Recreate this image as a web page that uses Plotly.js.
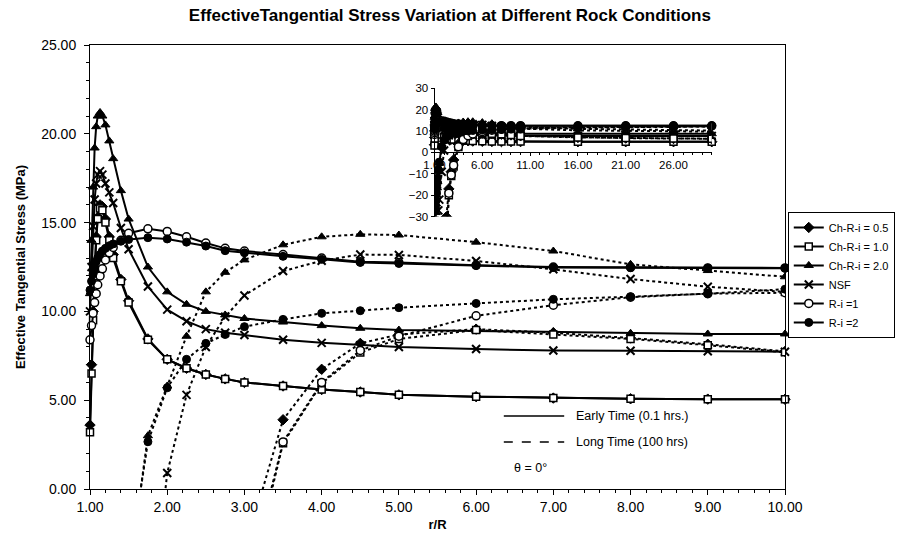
<!DOCTYPE html>
<html>
<head>
<meta charset="utf-8">
<script src="https://cdn.plot.ly/plotly-3.0.1.min.js"></script>
<style>html,body{margin:0;padding:0;background:#fff;}#chart{width:907px;height:546px;}</style>
</head>
<body>
<div id="chart"></div>
<script>
// r/R positions
const X = [1.0, 1.02, 1.04, 1.06, 1.08, 1.1, 1.13, 1.16, 1.2, 1.25, 1.3, 1.4, 1.5, 1.75, 2.0, 2.25, 2.5, 2.75, 3.0, 3.5, 4.0, 4.5, 5.0, 6.0, 7.0, 8.0, 9.0, 10.0];
// extra far-field points shown only in the inset
const X_EXT = [16, 21, 26, 30];

const seriesNames = ['Ch-R-i = 0.5', 'Ch-R-i = 1.0', 'Ch-R-i = 2.0', 'NSF', 'R-i =1', 'R-i =2'];

// Early time (0.1 hrs) - solid
const ch05Early = [3.6, 7.0, 10.0, 12.3, 14.2, 15.3, 16.0, 15.9, 15.2, 14.2, 13.2, 11.8, 10.6, 8.45, 7.3, 6.8, 6.45, 6.2, 6.0, 5.8, 5.6, 5.46, 5.3, 5.2, 5.12, 5.08, 5.06, 5.05];
const ch10Early = [3.2, 6.5, 9.5, 12.0, 14.0, 15.2, 15.8, 15.7, 15.0, 14.0, 13.0, 11.7, 10.5, 8.4, 7.3, 6.8, 6.45, 6.2, 6.0, 5.8, 5.6, 5.46, 5.3, 5.2, 5.12, 5.08, 5.06, 5.05];
const ch20Early = [11.0, 14.0, 17.0, 19.2, 20.4, 21.0, 21.2, 21.0, 20.5, 19.6, 18.6, 16.8, 15.2, 12.5, 11.1, 10.4, 10.0, 9.8, 9.6, 9.4, 9.2, 9.05, 8.95, 8.9, 8.85, 8.77, 8.73, 8.73];
const nsfEarly  = [10.0, 12.5, 14.8, 16.3, 17.2, 17.7, 17.9, 17.7, 17.2, 16.7, 16.1, 14.7, 13.5, 11.4, 10.1, 9.45, 9.0, 8.8, 8.67, 8.4, 8.23, 8.1, 8.0, 7.88, 7.8, 7.78, 7.76, 7.73];
const ri1Early  = [8.4, 9.2, 9.9, 10.5, 11.0, 11.5, 12.0, 12.4, 12.9, 13.3, 13.6, 14.0, 14.4, 14.65, 14.5, 14.2, 13.85, 13.55, 13.4, 13.2, 13.0, 12.8, 12.75, 12.6, 12.5, 12.48, 12.45, 12.45];
const ri2Early  = [11.2, 11.7, 12.1, 12.5, 12.8, 13.0, 13.2, 13.4, 13.55, 13.7, 13.8, 13.95, 14.05, 14.15, 14.08, 13.9, 13.68, 13.42, 13.3, 13.1, 12.93, 12.76, 12.7, 12.58, 12.47, 12.46, 12.44, 12.43];

// Long time (100 hrs) - dotted
const ch05Long = [null, null, null, null, null, null, null, null, null, null, null, null, null, null, -52, -30, -17, -9, -3.5, 3.9, 6.74, 8.2, 8.7, 9.0, 8.8, 8.5, 8.15, 7.75];
const ch10Long = [null, null, null, null, null, null, null, null, null, null, null, null, null, null, -65, -40, -20, -11, -6.5, 2.57, 5.95, 7.68, 8.45, 8.95, 8.7, 8.45, 8.1, 7.7];
const ch20Long = [-70, -60, -51, -44, -38, -33, -28, -24, -20, -16.5, -13.5, -9, -5, 3.0, 5.8, 8.6, 11.1, 12.2, 12.9, 13.75, 14.2, 14.34, 14.3, 13.9, 13.4, 12.65, 12.3, 11.95];
const nsfLong  = [-90, -80, -72, -65, -59, -54, -48, -44, -40, -36, -33, -27, -22, -9, 0.9, 5.3, 8.0, 9.7, 10.9, 12.27, 12.85, 13.2, 13.18, 12.84, 12.37, 11.82, 11.39, 11.1];
const ri1Long  = [null, null, null, null, null, null, null, null, null, null, null, null, null, null, -62, -38, -19, -10.5, -6.0, 2.65, 6.0, 7.8, 8.6, 9.75, 10.35, 10.8, 11.0, 11.05];
const ri2Long  = [-66, -57, -49, -42, -36, -31, -26.5, -22.5, -18.5, -15, -12, -8, -4.5, 2.66, 5.7, 7.3, 8.2, 8.7, 9.14, 9.55, 9.89, 10.04, 10.21, 10.45, 10.68, 10.83, 11.0, 11.25];

// far-field values (inset only)
const ch05EarlyExt = [5.0, 5.0, 5.0, 5.0];
const ch10EarlyExt = [5.0, 5.0, 5.0, 5.0];
const ch20EarlyExt = [8.7, 8.7, 8.7, 8.7];
const nsfEarlyExt  = [7.7, 7.7, 7.7, 7.7];
const ri1EarlyExt  = [12.4, 12.4, 12.4, 12.4];
const ri2EarlyExt  = [12.4, 12.4, 12.4, 12.4];
const ch05LongExt = [7.0, 6.7, 6.5, 6.4];
const ch10LongExt = [7.0, 6.7, 6.5, 6.4];
const ch20LongExt = [11.0, 10.6, 10.3, 10.2];
const nsfLongExt  = [10.3, 10.0, 9.8, 9.7];
const ri1LongExt  = [11.6, 11.8, 11.9, 12.0];
const ri2LongExt  = [11.7, 11.9, 12.0, 12.1];

const xTickVals = [1, 2, 3, 4, 5, 6, 7, 8, 9, 10];
const yTickVals = [0, 5, 10, 15, 20, 25];
const insetXTicks = [1, 6, 11, 16, 21, 26];
const insetYTicks = [-30, -20, -10, 0, 10, 20, 30];

const early = [ch05Early, ch10Early, ch20Early, nsfEarly, ri1Early, ri2Early];
const longT = [ch05Long, ch10Long, ch20Long, nsfLong, ri1Long, ri2Long];
const earlyExt = [ch05EarlyExt, ch10EarlyExt, ch20EarlyExt, nsfEarlyExt, ri1EarlyExt, ri2EarlyExt];
const longExt = [ch05LongExt, ch10LongExt, ch20LongExt, nsfLongExt, ri1LongExt, ri2LongExt];

const FONT = 'Liberation Sans, Arial, sans-serif';
const markerStyles = [
  {symbol: 'diamond', size: 8, color: 'black', line: {color: 'black', width: 1}},
  {symbol: 'square', size: 7, color: 'white', line: {color: 'black', width: 1.5}},
  {symbol: 'triangle-up', size: 8, color: 'black', line: {color: 'black', width: 1}},
  {symbol: 'x-thin-open', size: 8, color: 'black', line: {color: 'black', width: 2}},
  {symbol: 'circle', size: 8, color: 'white', line: {color: 'black', width: 1.5}},
  {symbol: 'circle', size: 8, color: 'black', line: {color: 'black', width: 1}}
];

const traces = [];
for (let i = 0; i < 6; i++) {
  traces.push({x: X, y: early[i], name: seriesNames[i], mode: 'lines+markers', type: 'scatter',
    line: {color: 'black', width: 2}, marker: markerStyles[i], cliponaxis: false, legendgroup: 'g' + i});
}
for (let i = 0; i < 6; i++) {
  traces.push({x: X, y: longT[i], name: seriesNames[i], mode: 'lines+markers', type: 'scatter',
    line: {color: 'black', width: 2, dash: 'dot'}, marker: markerStyles[i], showlegend: false, legendgroup: 'g' + i, connectgaps: false});
}
// inset
for (let i = 0; i < 6; i++) {
  traces.push({x: X.concat(X_EXT), y: early[i].concat(earlyExt[i]), xaxis: 'x2', yaxis: 'y2', mode: 'lines+markers', type: 'scatter',
    line: {color: 'black', width: 2}, marker: markerStyles[i], showlegend: false, cliponaxis: false});
}
for (let i = 0; i < 6; i++) {
  traces.push({x: X.concat(X_EXT), y: longT[i].concat(longExt[i]), xaxis: 'x2', yaxis: 'y2', mode: 'lines+markers', type: 'scatter',
    line: {color: 'black', width: 2, dash: 'dot'}, marker: markerStyles[i], showlegend: false});
}

const axisCommon = {showgrid: false, zeroline: false, showline: true, linecolor: 'black', linewidth: 1,
  ticks: 'outside', tickcolor: 'black', tickfont: {family: FONT, size: 14, color: 'black'}};

const layout = {
  width: 907, height: 546,
  margin: {l: 90, r: 115, t: 45, b: 57},
  paper_bgcolor: 'white', plot_bgcolor: 'rgba(0,0,0,0)',
  font: {family: FONT, color: 'black'},
  title: {text: '<b>EffectiveTangential Stress Variation at Different Rock Conditions</b>',
    font: {family: FONT, size: 17, color: 'black'}, x: 0.496, xanchor: 'center', y: 0.972, yanchor: 'middle'},
  xaxis: Object.assign({}, axisCommon, {range: [1, 10], tickvals: xTickVals, tickformat: '.2f', ticklen: 5, mirror: true,
    minor: {dtick: 0.2, tick0: 1, ticks: 'outside', ticklen: 3, tickcolor: 'black'},
    title: {text: '<b>r/R</b>', font: {family: FONT, size: 13, color: 'black'}, standoff: 6}}),
  yaxis: Object.assign({}, axisCommon, {range: [0, 25], tickvals: yTickVals, tickformat: '.2f', ticklen: 5, mirror: true,
    ticklabelstandoff: 5,
    minor: {dtick: 1, ticks: 'outside', ticklen: 3, tickcolor: 'black'},
    title: {text: '<b>Effective Tangential Stress (MPa)</b>', font: {family: FONT, size: 13, color: 'black'}, standoff: 12}}),
  xaxis2: Object.assign({}, axisCommon, {domain: [0.4957, 0.8946], range: [1, 30], anchor: 'free', position: 0.7597,
    tickvals: insetXTicks, tickformat: '.2f', ticklen: 3, tickfont: {family: FONT, size: 11.5, color: 'black'},
    minor: {dtick: 1, ticks: 'outside', ticklen: 2, tickcolor: 'black'}}),
  yaxis2: Object.assign({}, axisCommon, {domain: [0.613, 0.903], range: [-30, 30], anchor: 'x2',
    tickvals: insetYTicks, ticklen: 3, tickfont: {family: FONT, size: 11.5, color: 'black'}}),
  legend: {x: 1.004, xanchor: 'left', y: 0.624, yanchor: 'top', bordercolor: 'black', borderwidth: 1,
    bgcolor: 'white', font: {family: FONT, size: 11, color: 'black'}, itemwidth: 30, tracegroupgap: 0},
  shapes: [
    {type: 'line', xref: 'paper', yref: 'paper', x0: 0.5954, x1: 0.6823, y0: 0.1644, y1: 0.1644, line: {color: 'black', width: 1.5}},
    {type: 'line', xref: 'paper', yref: 'paper', x0: 0.5954, x1: 0.6823, y0: 0.1059, y1: 0.1059, line: {color: 'black', width: 1.5, dash: 'dash'}}
  ],
  annotations: [
    {text: 'Early Time (0.1 hrs.)', xref: 'paper', yref: 'paper', x: 0.6966, y: 0.1644, xanchor: 'left', yanchor: 'middle', showarrow: false, font: {family: FONT, size: 12.5, color: 'black'}},
    {text: 'Long Time (100 hrs)', xref: 'paper', yref: 'paper', x: 0.6966, y: 0.1059, xanchor: 'left', yanchor: 'middle', showarrow: false, font: {family: FONT, size: 12.5, color: 'black'}},
    {text: 'θ = 0°', xref: 'paper', yref: 'paper', x: 0.634, y: 0.0473, xanchor: 'center', yanchor: 'middle', showarrow: false, font: {family: FONT, size: 12.5, color: 'black'}}
  ]
};

Plotly.newPlot('chart', traces, layout, {displayModeBar: false, staticPlot: true});
</script>
</body>
</html>
